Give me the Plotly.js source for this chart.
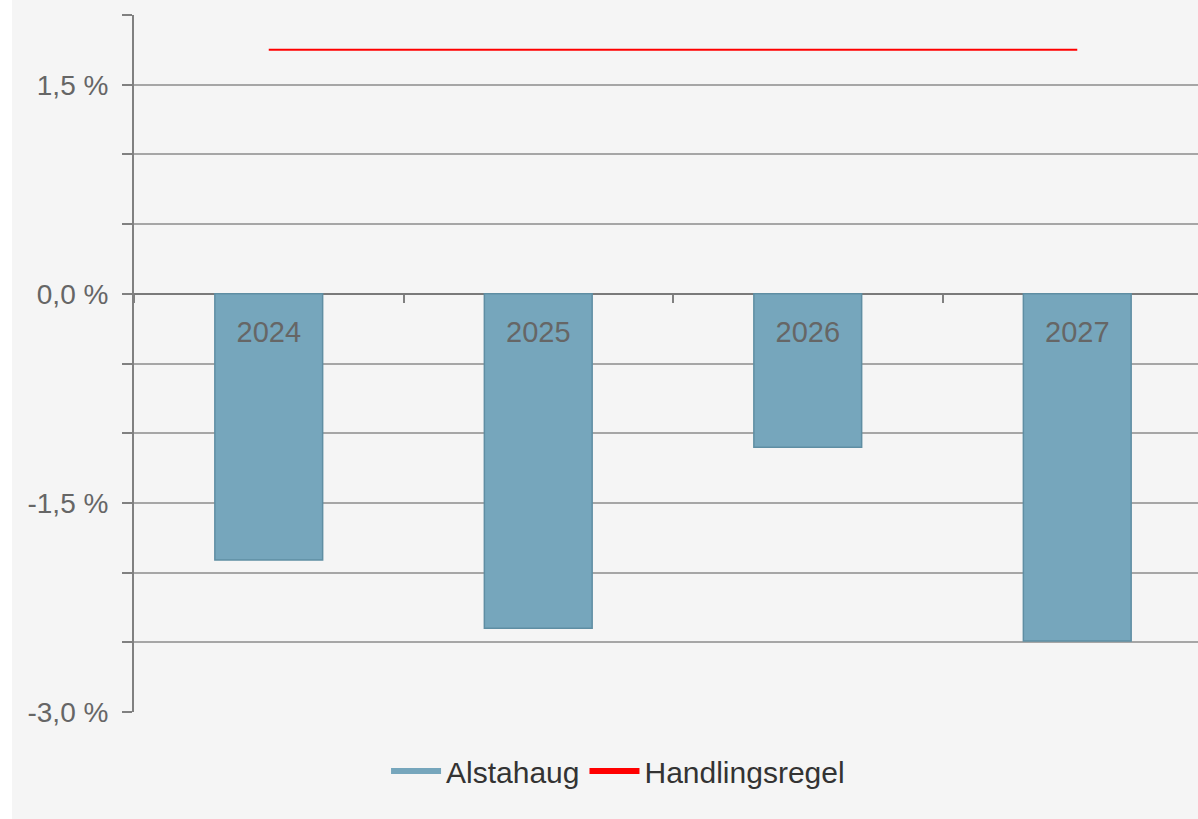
<!DOCTYPE html>
<html>
<head>
<meta charset="utf-8">
<script src="https://cdn.plot.ly/plotly-3.0.1.min.js"></script>
<style>
  html, body { margin: 0; padding: 0; background: #ffffff; }
  #chart { position: absolute; left: 12px; top: 0; width: 1186px; height: 819px; }
</style>
</head>
<body>
<div id="chart"></div>
<script>
// Data
const years = ['2024', '2025', '2026', '2027'];
const alstahaug = [-1.91, -2.40, -1.10, -2.49];
const handlingsregel = [1.75, 1.75, 1.75, 1.75];
const seriesNames = ['Alstahaug', 'Handlingsregel'];
const yTickVals = [-3.0, -2.5, -2.0, -1.5, -1.0, -0.5, 0.0, 0.5, 1.0, 1.5, 2.0];
const yTickText = ['-3,0 %', '', '', '-1,5 %', '', '', '0,0 %', '', '', '1,5 %', ''];

const barColor = '#76a6bc';
const lineColor = '#ff0000';
const yRange = [-3, 2];
const xRange = [-0.5, 3.448];

const traces = [
  {
    type: 'bar', x: years, y: alstahaug, name: seriesNames[0],
    xaxis: 'x2', yaxis: 'y',
    width: 0.4,
    marker: { color: barColor, line: { color: '#5f8ea3', width: 1.5 } },
    showlegend: false, hoverinfo: 'skip'
  },
  {
    type: 'scatter', mode: 'lines', x: years, y: handlingsregel, name: seriesNames[1],
    xaxis: 'x2', yaxis: 'y',
    line: { color: lineColor, width: 2 },
    showlegend: false, hoverinfo: 'skip'
  },
  // legend swatches
  {
    type: 'scatter', mode: 'lines', x: [null], y: [null], name: seriesNames[0],
    xaxis: 'x2', line: { color: barColor, width: 6 }, hoverinfo: 'skip'
  },
  {
    type: 'scatter', mode: 'lines', x: [null], y: [null], name: seriesNames[1],
    xaxis: 'x2', line: { color: lineColor, width: 6 }, hoverinfo: 'skip'
  }
];

const zeroPos = (0 - yRange[0]) / (yRange[1] - yRange[0]);

const layout = {
  width: 1186, height: 819,
  paper_bgcolor: '#f5f5f5', plot_bgcolor: '#f5f5f5',
  margin: { l: 122, r: 0, t: 15, b: 107 },
  font: { family: 'Liberation Sans, Arial, sans-serif', color: '#666666', size: 28 },
  showlegend: true,
  legend: {
    orientation: 'h', xref: 'container', yref: 'container',
    x: 0.511, xanchor: 'center', y: 0.0586, yanchor: 'middle',
    font: { size: 30, color: '#333333' }, bgcolor: 'rgba(0,0,0,0)',
    itemwidth: 50, tracegroupgap: 0
  },
  xaxis: {
    type: 'category', range: xRange, categoryorder: 'array', categoryarray: years,
    showticklabels: false, ticks: '', showgrid: false, showline: false, zeroline: false,
    fixedrange: true
  },
  xaxis2: {
    type: 'category', overlaying: 'x', anchor: 'free', position: zeroPos,
    range: xRange, categoryorder: 'array', categoryarray: years,
    tickson: 'boundaries', ticks: 'outside', ticklen: 8, tickwidth: 2, tickcolor: '#808080',
    showticklabels: true, tickfont: { size: 29, color: '#666666' },
    ticklabelstandoff: 18,
    showgrid: false, showline: false, zeroline: false, fixedrange: true
  },
  yaxis: {
    range: yRange, tickmode: 'array', tickvals: yTickVals, ticktext: yTickText,
    ticks: 'outside', ticklen: 10, tickwidth: 2, tickcolor: '#808080',
    showline: true, linecolor: '#808080', linewidth: 2,
    showgrid: true, gridcolor: '#a6a6a6', gridwidth: 2,
    zeroline: true, zerolinecolor: '#7a7a7a', zerolinewidth: 2,
    tickfont: { size: 28, color: '#666666' }, ticklabelstandoff: 8,
    fixedrange: true
  },
  hovermode: false
};

Plotly.newPlot('chart', traces, layout, { displayModeBar: false, staticPlot: true });
</script>
</body>
</html>
